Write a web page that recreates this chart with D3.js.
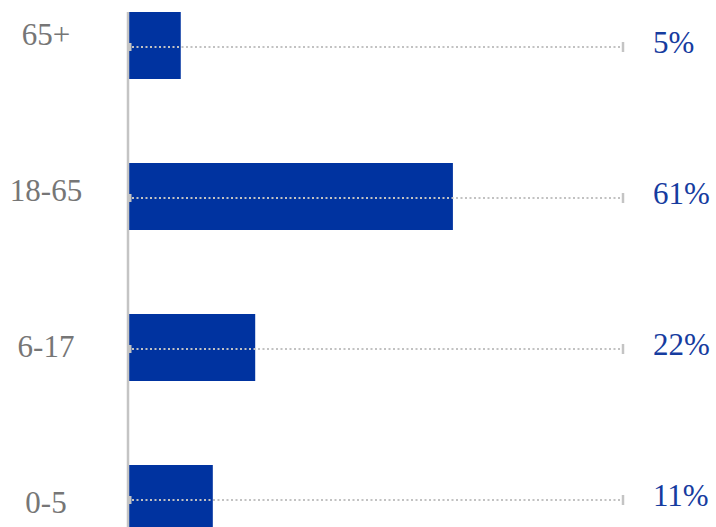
<!DOCTYPE html>
<html>
<head>
<meta charset="utf-8">
<script src="https://cdn.jsdelivr.net/npm/d3@7"></script>
<style>
html,body{margin:0;padding:0;background:#fff;overflow:hidden;}
svg{display:block;}
</style>
</head>
<body>
<script>
const categories = ["65+", "18-65", "6-17", "0-5"];
const barValues = [10.5, 65.7, 25.6, 17.0];
const percentLabels = ["5%", "61%", "22%", "11%"];

const W = 716, H = 527;
const svg = d3.select("body").append("svg").attr("width", W).attr("height", H);

const x = d3.scaleLinear().domain([0, 100]).range([129, 622]);
const yPos = d3.scalePoint().domain(categories).range([0, 453]);
const barH = 67;
const font = "'Liberation Serif', 'Times New Roman', serif";

// bars
svg.selectAll("rect.bar").data(categories).join("rect")
  .attr("class", "bar")
  .attr("x", x(0))
  .attr("y", d => 12 + yPos(d))
  .attr("width", (d, i) => x(barValues[i]) - x(0))
  .attr("height", barH)
  .attr("fill", "#0033a0");

// dotted guide lines
const lineY = d => Math.round(47 + yPos(d));
svg.selectAll("line.guide").data(categories).join("line")
  .attr("x1", x(0) + 3).attr("x2", x(100))
  .attr("y1", lineY).attr("y2", lineY)
  .attr("stroke", "#c2c2c2").attr("stroke-width", 2)
  .attr("stroke-dasharray", "2,2.5");

// end ticks
svg.selectAll("line.endtick").data(categories).join("line")
  .attr("x1", x(100) + 1).attr("x2", x(100) + 1)
  .attr("y1", d => lineY(d) - 5).attr("y2", d => lineY(d) + 5)
  .attr("stroke", "#c4c4c4").attr("stroke-width", 2.5);

// start ticks
svg.selectAll("line.starttick").data(categories).join("line")
  .attr("x1", x(0) + 1).attr("x2", x(0) + 1)
  .attr("y1", d => lineY(d) - 4).attr("y2", d => lineY(d) + 4)
  .attr("stroke", "#c4c4c4").attr("stroke-width", 3);

// vertical axis
svg.append("line")
  .attr("x1", x(0) - 1).attr("x2", x(0) - 1)
  .attr("y1", 12).attr("y2", H)
  .attr("stroke", "#c4c4c4").attr("stroke-width", 2.5);

// category labels
svg.selectAll("text.cat").data(categories).join("text")
  .attr("class", "cat")
  .attr("x", 46)
  .attr("y", d => 45 + yPos(d) * (468 / 453))
  .attr("text-anchor", "middle")
  .attr("font-family", font)
  .attr("font-size", 31)
  .attr("fill", "#767676")
  .text(d => d);

// percentage labels
svg.selectAll("text.pct").data(categories).join("text")
  .attr("class", "pct")
  .attr("x", 653)
  .attr("y", d => 53 + yPos(d))
  .attr("text-anchor", "start")
  .attr("font-family", font)
  .attr("font-size", 31)
  .attr("fill", "#163c9f")
  .text((d, i) => percentLabels[i]);
</script>
</body>
</html>
